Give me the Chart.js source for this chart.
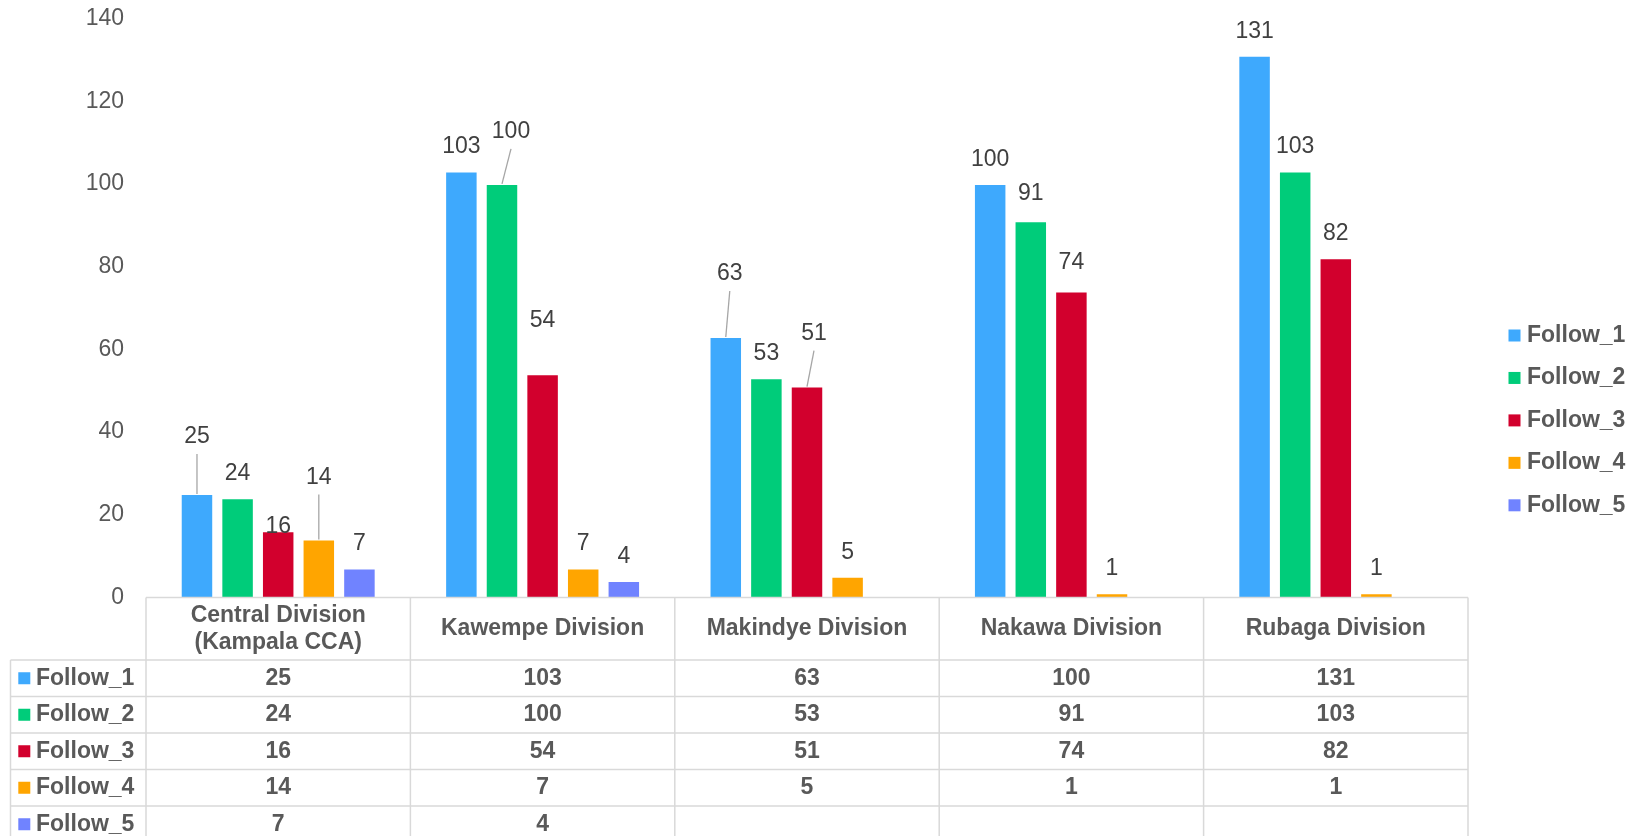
<!DOCTYPE html>
<html>
<head>
<meta charset="utf-8">
<title>Follow-ups by division</title>
<script src="https://cdn.jsdelivr.net/npm/chart.js@4.4.1/dist/chart.umd.min.js"></script>
<style>
  html, body { margin: 0; padding: 0; background: #fff; }
  #wrap { width: 1632px; height: 836px; }
</style>
</head>
<body>
<div id="wrap"><canvas id="myChart" width="1632" height="836"></canvas></div>
<script>
// data
const categories = [['Central Division', '(Kampala CCA)'], 'Kawempe Division', 'Makindye Division', 'Nakawa Division', 'Rubaga Division'];
const seriesNames = ['Follow_1', 'Follow_2', 'Follow_3', 'Follow_4', 'Follow_5'];
const follow1 = [25, 103, 63, 100, 131];
const follow2 = [24, 100, 53, 91, 103];
const follow3 = [16, 54, 51, 74, 82];
const follow4 = [14, 7, 5, 1, 1];
const follow5 = [7, 4, null, null, null];
const yTicks = [0, 20, 40, 60, 80, 100, 120, 140];

const colors = ['#3ea9fd', '#00cc7a', '#d2002d', '#ffa500', '#7083ff'];
const textGrey = '#595959';
const labelGrey = '#404040';
const lineGrey = '#d9d9d9';
const FONT = "'Liberation Sans', Arial, sans-serif";

// label nudges (Excel moved some data labels by hand)
const labelNudge = [
  [{ dy: 57, line: true }, null, { dx: 4, dy: 63, line: true }, null, null],
  [null, { dx: 9, dy: 52, line: true }, null, { dy: 27 }, null],
  [{ dy: 5 }, { dy: 54 }, { dx: 7, dy: 53, line: true }, { dy: 29 }, null],
  [{ dy: 62, line: true }, null, null, null, null],
  [null, null, null, null, null],
];

Chart.defaults.font.family = FONT;

const seriesData = [follow1, follow2, follow3, follow4, follow5];

const ctx = document.getElementById('myChart').getContext('2d');

// data labels above bars, with leader lines where moved
const barLabels = {
  id: 'barLabels',
  afterDatasetsDraw(chart) {
    const c = chart.ctx;
    c.save();
    c.font = '23px ' + FONT;
    c.fillStyle = labelGrey;
    c.textAlign = 'center';
    c.textBaseline = 'middle';
    chart.data.datasets.forEach((ds, i) => {
      const meta = chart.getDatasetMeta(i);
      ds.data.forEach((v, j) => {
        if (v === null) return;
        const el = meta.data[j];
        const n = labelNudge[i][j] || {};
        const dy = n.dy !== undefined ? n.dy : 24.5;
        const dx = n.dx || 0;
        const lx = el.x + dx;
        const ly = el.y - dy;
        if (n.line) {
          c.strokeStyle = '#a6a6a6';
          c.lineWidth = 1.3;
          c.beginPath();
          c.moveTo(el.x, el.y);
          c.lineTo(lx, ly + 17);
          c.stroke();
        }
        c.fillText(String(v), lx, ly);
      });
    });
    c.restore();
  }
};

// data table under the plot + legend on the right
const dataTable = {
  id: 'dataTable',
  afterDraw(chart) {
    const c = chart.ctx;
    const area = chart.chartArea;
    const n = categories.length;
    const w = (area.right - area.left) / n;
    const headTop = area.bottom;
    const rowTop = 660;
    const rowH = 36.5;
    const tableLeft = 10.5;
    const bottom = chart.height;

    c.save();
    c.strokeStyle = lineGrey;
    c.lineWidth = 1.5;
    c.beginPath();
    c.moveTo(area.left, headTop);
    c.lineTo(area.right, headTop);
    for (let k = 0; k <= n; k++) {
      const x = area.left + k * w;
      c.moveTo(x, headTop);
      c.lineTo(x, bottom);
    }
    c.moveTo(tableLeft, rowTop);
    c.lineTo(tableLeft, bottom);
    for (let r = 0; r < seriesNames.length; r++) {
      const y = rowTop + r * rowH;
      c.moveTo(tableLeft, y);
      c.lineTo(area.right, y);
    }
    c.stroke();

    c.fillStyle = textGrey;
    c.font = 'bold 23px ' + FONT;
    c.textAlign = 'center';
    c.textBaseline = 'middle';
    const xs = chart.scales.x;
    const headMid = (headTop + rowTop) / 2;
    categories.forEach((cat, j) => {
      const cx = xs.getPixelForValue(j);
      const lines = Array.isArray(cat) ? cat : [cat];
      lines.forEach((t, k) => {
        c.fillText(t, cx, headMid + (k - (lines.length - 1) / 2) * 27);
      });
    });

    seriesNames.forEach((name, i) => {
      const cy = rowTop + i * rowH + rowH / 2;
      c.fillStyle = colors[i];
      c.fillRect(18.3, cy - 6, 12, 12);
      c.fillStyle = textGrey;
      c.textAlign = 'left';
      c.fillText(name, 36, cy);
      c.textAlign = 'center';
      seriesData[i].forEach((v, j) => {
        if (v === null) return;
        c.fillText(String(v), xs.getPixelForValue(j), cy);
      });
    });

    // legend
    c.textAlign = 'left';
    seriesNames.forEach((name, i) => {
      const cy = 335.5 + i * 42.45;
      c.fillStyle = colors[i];
      c.fillRect(1508.5, cy - 6, 12, 12);
      c.fillStyle = textGrey;
      c.fillText(name, 1527, cy);
    });
    c.restore();
  }
};

const myChart = new Chart(ctx, {
  type: 'bar',
  data: {
    labels: categories,
    datasets: seriesNames.map((name, i) => ({
      label: name,
      data: seriesData[i],
      backgroundColor: colors[i],
      borderColor: 'rgba(255,255,255,0.45)',
      borderWidth: 1,
      barPercentage: 0.8,
      categoryPercentage: 0.768,
    })),
  },
  options: {
    responsive: false,
    animation: false,
    layout: { padding: { top: 0, right: 164, bottom: 238.5, left: 0 } },
    plugins: {
      legend: { display: false },
      tooltip: { enabled: false },
    },
    scales: {
      x: { display: false },
      y: {
        min: 0,
        max: 140,
        afterBuildTicks: (s) => { s.ticks = yTicks.map((v) => ({ value: v })); },
        afterFit: (s) => { s.width = 146; s.paddingTop = 18.5; s.paddingBottom = 0; },
        ticks: { color: textGrey, font: { size: 23 }, padding: 22 },
        grid: { display: false, drawTicks: false },
        border: { display: false },
      },
    },
  },
  plugins: [barLabels, dataTable],
});
</script>
</body>
</html>
